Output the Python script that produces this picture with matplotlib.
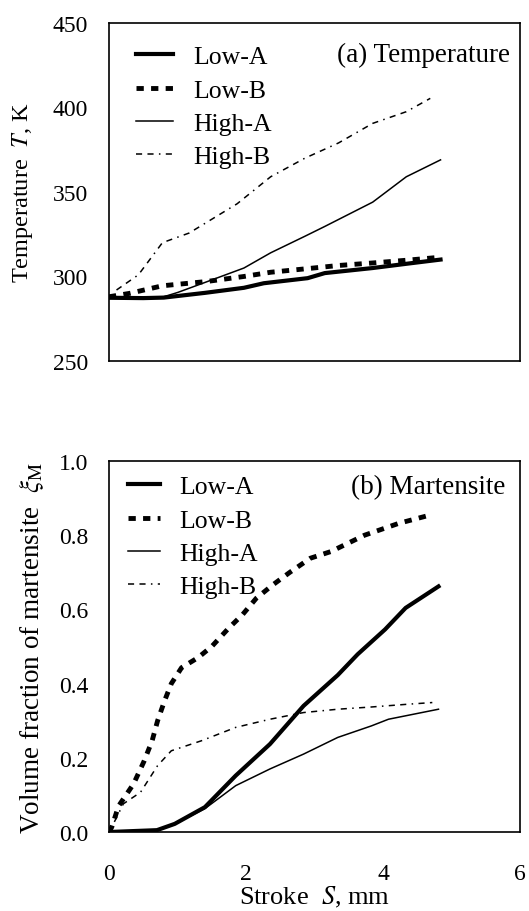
import matplotlib
matplotlib.use("Agg")
import matplotlib.pyplot as plt

plt.rcParams['font.family'] = ['Liberation Serif', 'DejaVu Serif']
plt.rcParams['mathtext.fontset'] = 'stix'

# (a) temperature vs stroke
lowA_x = [0, 0.5, 0.8, 1.4, 1.97, 2.26, 2.9, 3.15, 3.85, 4.34, 4.84]
lowA_T = [287.4, 287.2, 287.5, 290.3, 293.3, 296, 299, 302, 305, 307.5, 310]
lowB_x = [0, 0.3, 0.78, 1.42, 1.97, 2.36, 2.86, 3.35, 3.85, 4.34, 4.84]
lowB_T = [288, 290, 294.5, 297, 300, 302.5, 304.5, 306.5, 308, 309.6, 311.4]
highA_x = [0, 0.5, 0.8, 1.0, 1.37, 1.97, 2.36, 2.86, 3.15, 3.85, 4.34, 4.84]
highA_T = [287.4, 287.2, 288, 290.5, 296, 305, 314, 323.8, 329.6, 344, 359, 369]
highB_x = [0.11, 0.43, 0.78, 1.17, 1.87, 2.36, 2.86, 3.35, 3.85, 4.34, 4.69]
highB_T = [292, 301, 320, 325.7, 343, 359, 370, 379, 390.6, 397.5, 405.4]

# (b) martensite fraction vs stroke
lowA_sx = [0, 0.7, 0.96, 1.4, 1.85, 2.35, 2.84, 3.34, 3.63, 4.03, 4.33, 4.81]
lowA_xi = [0, 0.005, 0.022, 0.067, 0.152, 0.237, 0.34, 0.423, 0.479, 0.546, 0.604, 0.662]
lowB_sx = [0, 0.04, 0.14, 0.36, 0.51, 0.63, 0.71, 0.81, 0.91, 1.06, 1.3, 1.5, 1.75, 1.95,
           2.15, 2.39, 2.64, 2.94, 3.24, 3.73, 4.23, 4.68]
lowB_xi = [0, 0.013, 0.07, 0.13, 0.19, 0.246, 0.3, 0.353, 0.40, 0.443, 0.47, 0.50, 0.55, 0.586,
           0.63, 0.666, 0.70, 0.738, 0.756, 0.80, 0.832, 0.854]
highA_sx = [0, 0.7, 0.96, 1.4, 1.85, 2.35, 2.84, 3.34, 3.83, 4.08, 4.81]
highA_xi = [0, 0.005, 0.022, 0.063, 0.125, 0.17, 0.21, 0.255, 0.286, 0.304, 0.331]
highB_sx = [0, 0.04, 0.21, 0.46, 0.71, 0.91, 1.35, 1.85, 2.35, 2.84, 3.34, 3.83, 4.33, 4.72]
highB_xi = [0, 0.013, 0.076, 0.107, 0.179, 0.219, 0.246, 0.282, 0.304, 0.322, 0.331, 0.337, 0.344, 0.349]

labels = ['Low-A', 'Low-B', 'High-A', 'High-B']
styles = [dict(lw=3.0, ls='-'),
          dict(lw=3.5, ls=(0, (1.5, 1.5))),
          dict(lw=1.1, ls='-'),
          dict(lw=1.1, ls=(0, (4, 3.5, 4, 3.5, 1, 3.5)))]

fig = plt.figure(figsize=(5.29, 9.12), dpi=100)
ax1 = fig.add_axes([0.206, 0.6031, 0.777, 0.3706])
ax2 = fig.add_axes([0.206, 0.0866, 0.777, 0.4068])

for x, y, lab, st in zip([lowA_x, lowB_x, highA_x, highB_x],
                         [lowA_T, lowB_T, highA_T, highB_T], labels, styles):
    ax1.plot(x, y, color='black', label=lab, **st)
for x, y, lab, st in zip([lowA_sx, lowB_sx, highA_sx, highB_sx],
                         [lowA_xi, lowB_xi, highA_xi, highB_xi], labels, styles):
    ax2.plot(x, y, color='black', label=lab, **st)

ax1.set_xlim(0, 6)
ax1.set_ylim(250, 450)
ax1.set_yticks([250, 300, 350, 400, 450])
ax1.set_xticks([])
ax1.set_ylabel(r'Temperature  $T$, K', fontsize=17.5, labelpad=13)
ax1.text(0.976, 0.908, '(a) Temperature', transform=ax1.transAxes,
         ha='right', va='center', fontsize=19.5)

ax2.set_xlim(0, 6)
ax2.set_ylim(0, 1.0)
ax2.set_yticks([0.0, 0.2, 0.4, 0.6, 0.8, 1.0])
ax2.set_yticklabels(['0.0', '0.2', '0.4', '0.6', '0.8', '1.0'])
ax2.set_xticks([0, 2, 4, 6])
ax2.set_xlabel(r'Stroke  $S$, mm', fontsize=19, labelpad=0)
ax2.set_ylabel(r'Volume fraction of martensite  $\xi_{\rm M}$', fontsize=19.5, labelpad=9)
ax2.text(0.964, 0.930, '(b) Martensite', transform=ax2.transAxes,
         ha='right', va='center', fontsize=19.5)

for ax in (ax1, ax2):
    ax.tick_params(length=0, labelsize=17)
    ax.tick_params(axis='y', pad=15)
    ax.tick_params(axis='x', pad=22)
    for sp in ax.spines.values():
        sp.set_linewidth(1.2)

ax1.legend(loc='upper left', bbox_to_anchor=(0.066, 0.934), frameon=False, fontsize=18.5,
           handlelength=1.44, handletextpad=0.78, labelspacing=0.40,
           borderpad=0, borderaxespad=0)
ax2.legend(loc='upper left', bbox_to_anchor=(0.046, 0.961), frameon=False, fontsize=18.5,
           handlelength=1.25, handletextpad=0.74, labelspacing=0.40,
           borderpad=0, borderaxespad=0)

fig.savefig('out.png', dpi=100)
